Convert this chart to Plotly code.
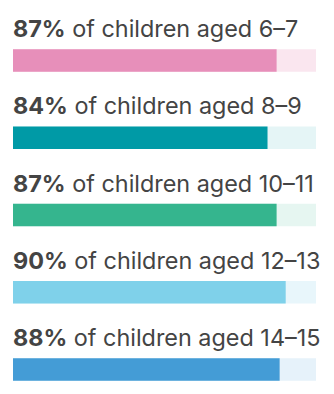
import plotly.graph_objects as go

groups = ["6–7", "8–9", "10–11", "12–13", "14–15"]
values = [87, 84, 87, 90, 88]
colors = ["#E78FBA", "#009AA6", "#35B58E", "#7FD1EA", "#449CD6"]
track_colors = ["#FAE6EF", "#E5F5F6", "#E6F6F1", "#E8F6FB", "#E6F2FA"]

ypos = list(range(len(groups)))
fig = go.Figure()
fig.add_trace(go.Bar(x=[100] * len(groups), y=ypos, orientation="h",
                     marker=dict(color=track_colors, line=dict(width=0)),
                     width=0.294, hoverinfo="skip"))
fig.add_trace(go.Bar(x=values, y=ypos, orientation="h",
                     marker=dict(color=colors, line=dict(width=0)),
                     width=0.294))

for i, (g, v) in enumerate(zip(groups, values)):
    fig.add_annotation(x=0, y=i - 0.147, xref="x", yref="y",
                       xanchor="left", yanchor="bottom", showarrow=False,
                       text=f"<b>{v}%</b> of children aged {g}",
                       font=dict(family="Inter", size=23.4, color="#444444"),
                       xshift=-2, yshift=4)

fig.update_layout(
    width=334, height=394,
    margin=dict(l=13, r=18, t=0, b=0),
    barmode="overlay", showlegend=False,
    plot_bgcolor="white", paper_bgcolor="white",
    xaxis=dict(range=[0, 100], visible=False, fixedrange=True),
    yaxis=dict(range=[4.317, -0.783], visible=False, fixedrange=True),
)
fig.write_html("out.html")
